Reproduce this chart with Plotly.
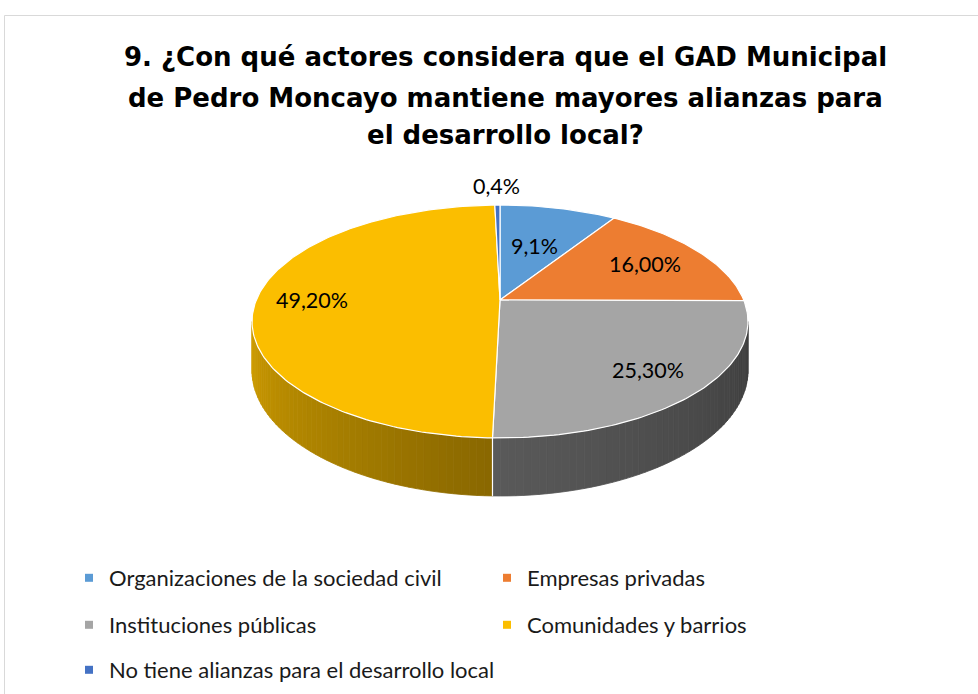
import numpy as np
import plotly.graph_objects as go

# ---------------- data ----------------
categories = [
    "Organizaciones de la sociedad civil",
    "Empresas privadas",
    "Instituciones públicas",
    "Comunidades y barrios",
    "No tiene alianzas para el desarrollo local",
]
values = [9.1, 16.0, 25.3, 49.2, 0.4]
value_labels = ["9,1%", "16,00%", "25,30%", "49,20%", "0,4%"]
title_lines = [
    "9. ¿Con qué actores considera que el GAD Municipal",
    "de Pedro Moncayo mantiene mayores alianzas para",
    "el desarrollo local?",
]

# ---------------- style ----------------
colors = ["#5B9BD5", "#ED7D31", "#A5A5A5", "#FBBE00", "#4472C4"]
label_radius = [0.55, 0.72, 0.78, 0.77, 1.25]
title_line_y = [57, 98, 135]
W, H = 978, 694
CX, CY = 500.0, 300.0          # pie centre on screen
RX, RY = 243.7, 112.5           # radii of the tilted disc
K = 0.1846                      # perspective factor
DEPTH = 47.3                    # thickness of the disc

def proj(r, phi_deg, z=0.0):
    p = np.radians(phi_deg)
    X = r * np.sin(p)
    Y = r * np.cos(p)
    w = 1 + K * Y
    return CX + RX * X / w, CY - RY * Y / w + DEPTH * z / w

def shade(phi):
    return np.interp(phi, [100, 180, 260], [0.37, 0.54, 0.83])

def hex_rgb(h):
    h = h.lstrip("#")
    return tuple(int(h[i:i + 2], 16) for i in (0, 2, 4))

fig = go.Figure()

total = float(sum(values))
bounds = np.concatenate([[0.0], np.cumsum(values)]) / total * 360.0
phi_sil = np.degrees(np.arccos(-K))          # silhouette angles
vis_lo, vis_hi = phi_sil, 360.0 - phi_sil

# ---- side walls (front half only) ----
for i, v in enumerate(values):
    a0, a1 = bounds[i], bounds[i + 1]
    lo, hi = max(a0, vis_lo), min(a1, vis_hi)
    if hi <= lo:
        continue
    n = max(2, int(np.ceil((hi - lo) / 1.5)))
    edges = np.linspace(lo, hi, n + 1)
    base = hex_rgb(colors[i])
    for j in range(n):
        e0, e1 = edges[j], edges[j + 1]
        ph = np.linspace(e0, e1, 4)
        xt, yt = proj(1.0, ph, 0.0)
        xb, yb = proj(1.0, ph[::-1], 1.0)
        f = shade((e0 + e1) / 2)
        c = "rgb(%d,%d,%d)" % tuple(int(round(ch * f)) for ch in base)
        fig.add_trace(go.Scatter(
            x=np.concatenate([xt, xb, xt[:1]]), y=np.concatenate([yt, yb, yt[:1]]),
            mode="lines", fill="toself", fillcolor=c,
            line=dict(color=c, width=0.8), hoverinfo="skip", showlegend=False))

# white edge between walls
for b in bounds[1:-1]:
    if vis_lo < b < vis_hi:
        x0, y0 = proj(1.0, b, 0.0)
        x1, y1 = proj(1.0, b, 1.0)
        fig.add_trace(go.Scatter(x=[x0, x1], y=[y0, y1], mode="lines",
                                 line=dict(color="white", width=1.2),
                                 hoverinfo="skip", showlegend=False))

# ---- top face slices ----
for i, v in enumerate(values):
    a0, a1 = bounds[i], bounds[i + 1]
    ph = np.linspace(a0, a1, max(3, int((a1 - a0) / 1.0) + 2))
    xa, ya = proj(1.0, ph)
    xs = np.concatenate([[CX], xa, [CX]])
    ys = np.concatenate([[CY], ya, [CY]])
    fig.add_trace(go.Scatter(
        x=xs, y=ys, mode="lines", fill="toself", fillcolor=colors[i],
        line=dict(color="white", width=1.2), name=categories[i],
        hovertemplate=categories[i] + ": " + value_labels[i] + "<extra></extra>",
        showlegend=False))

# ---- data labels ----
for i, v in enumerate(values):
    mid = (bounds[i] + bounds[i + 1]) / 2
    lx, ly = proj(label_radius[i], mid)
    fig.add_annotation(x=float(lx), y=float(ly), xref="x", yref="y",
                       text=value_labels[i], showarrow=False,
                       font=dict(family="Lato", size=21.5, color="#000000"))

# ---- title (one annotation per line) ----
for line, ty in zip(title_lines, title_line_y):
    fig.add_annotation(x=505, y=ty, xref="x", yref="y", text="<b>" + line + "</b>",
                       showarrow=False, xanchor="center", yanchor="middle",
                       font=dict(family="DejaVu Sans", size=26, color="#000000"))

# ---- legend entries ----
legend_ids = ["legend", "legend", "legend2", "legend2", "legend3"]
for i, name in enumerate(categories):
    fig.add_trace(go.Scatter(
        x=[None], y=[None], mode="markers", name=name,
        marker=dict(symbol="square", size=8, color=colors[i]),
        legend=legend_ids[i], showlegend=True))

leg_common = dict(orientation="h", xanchor="left", yanchor="middle",
                  x=69 / W, entrywidth=373, entrywidthmode="pixels",
                  font=dict(family="Lato", size=22, color="#1a1a1a"),
                  bgcolor="rgba(0,0,0,0)", itemclick=False, itemdoubleclick=False)

fig.update_layout(
    width=W, height=H,
    margin=dict(l=0, r=0, t=0, b=0),
    paper_bgcolor="white", plot_bgcolor="white",
    xaxis=dict(range=[0, W], visible=False, fixedrange=True),
    yaxis=dict(range=[H, 0], visible=False, fixedrange=True),
    legend=dict(leg_common, y=1 - 578 / H),
    legend2=dict(leg_common, y=1 - 625 / H),
    legend3=dict(leg_common, y=1 - 670 / H, entrywidth=600),
    shapes=[dict(type="rect", xref="x", yref="y", x0=4.5, y0=15.5, x1=W + 20, y1=H + 20,
                 line=dict(color="#D9D9D9", width=1), fillcolor="rgba(0,0,0,0)",
                 layer="below")],
)

fig.write_html("out.html", config={"displayModeBar": False},
               post_script="document.body.style.margin='0';")
